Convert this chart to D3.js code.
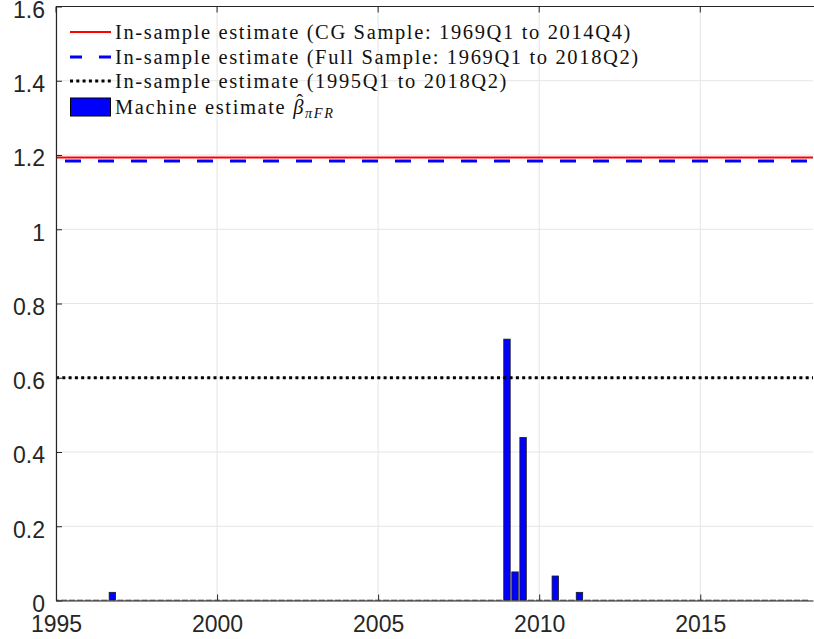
<!DOCTYPE html>
<html>
<head>
<meta charset="utf-8">
<script src="https://cdn.jsdelivr.net/npm/d3@7"></script>
<style>
  html, body { margin: 0; padding: 0; background: #fff; }
  svg { display: block; }
</style>
</head>
<body>
<svg id="chart" width="814" height="639"></svg>
<script>
// Quarterly machine estimates, 1995Q1 .. 2018Q2 (one row per year)
const machineEstimate = [
  0, 0, 0, 0,          // 1995
  0, 0, 0, 0.022,      // 1996
  0, 0, 0, 0,          // 1997
  0, 0, 0, 0,          // 1998
  0, 0, 0, 0,          // 1999
  0, 0, 0, 0,          // 2000
  0, 0, 0, 0,          // 2001
  0, 0, 0, 0,          // 2002
  0, 0, 0, 0,          // 2003
  0, 0, 0, 0,          // 2004
  0, 0, 0, 0,          // 2005
  0, 0, 0, 0,          // 2006
  0, 0, 0, 0,          // 2007
  0, 0, 0, 0,          // 2008
  0.704, 0.077, 0.439, 0, // 2009
  0, 0, 0.066, 0,      // 2010
  0, 0.022, 0, 0,      // 2011
  0, 0, 0, 0,          // 2012
  0, 0, 0, 0,          // 2013
  0, 0, 0, 0,          // 2014
  0, 0, 0, 0,          // 2015
  0, 0, 0, 0,          // 2016
  0, 0, 0, 0,          // 2017
  0, 0                 // 2018
];
const startYear = 1995;

// In-sample estimates (horizontal reference lines)
const estCG = 1.193;     // CG Sample: 1969Q1 to 2014Q4
const estFull = 1.184;   // Full Sample: 1969Q1 to 2018Q2
const estRecent = 0.6;   // 1995Q1 to 2018Q2

const xTicks = [1995, 2000, 2005, 2010, 2015];
const yTicks = [0, 0.2, 0.4, 0.6, 0.8, 1, 1.2, 1.4, 1.6];
const legendLabels = [
  "In-sample estimate (CG Sample: 1969Q1 to 2014Q4)",
  "In-sample estimate (Full Sample: 1969Q1 to 2018Q2)",
  "In-sample estimate (1995Q1 to 2018Q2)",
  "Machine estimate "
];

// Layout
const margin = { left: 56, right: 1, top: 6.5, bottom: 38.5 };
const W = 814, H = 639;
const svg = d3.select('#chart');

const x = d3.scaleLinear().domain([1995, 2018.5]).range([margin.left, W - margin.right]);
const y = d3.scaleLinear().domain([0, 1.6]).range([H - margin.bottom, margin.top]);

const axisColor = '#262626';
const gridColor = '#e5e5e5';
const tickFont = '"Liberation Sans", Arial, Helvetica, sans-serif';
const serif = '"Liberation Serif", "DejaVu Serif", serif';

svg.append('defs').append('clipPath').attr('id', 'plotclip')
  .append('rect')
  .attr('x', x(1995)).attr('y', y(1.6))
  .attr('width', x(2018.5) - x(1995)).attr('height', y(0) - y(1.6));

// Grid
const grid = svg.append('g');
grid.selectAll('.gx').data(xTicks).join('line')
  .attr('x1', d => x(d)).attr('x2', d => x(d))
  .attr('y1', y(0)).attr('y2', y(1.6))
  .attr('stroke', gridColor).attr('stroke-width', 1);
grid.selectAll('.gy').data(yTicks).join('line')
  .attr('x1', x(1995)).attr('x2', x(2018.5))
  .attr('y1', d => y(d)).attr('y2', d => y(d))
  .attr('stroke', gridColor).attr('stroke-width', 1);

// Bars (MATLAB bar width 0.8 of one quarter)
const plot = svg.append('g').attr('clip-path', 'url(#plotclip)');
const q = 0.25;
const bars = machineEstimate.map((v, i) => ({ t: startYear + i * q, v: v }));
const barW = x(0.8 * q) - x(0);

// zero-height bars still show their edge along the baseline
plot.selectAll('line.zero').data(bars.filter(d => d.v === 0)).join('line')
  .attr('class', 'zero')
  .attr('x1', d => x(d.t) - barW / 2).attr('x2', d => x(d.t) + barW / 2)
  .attr('y1', y(0)).attr('y2', y(0))
  .attr('stroke', '#1a1a1a').attr('stroke-width', 1.6);

plot.selectAll('rect.bar').data(bars.filter(d => d.v > 0)).join('rect')
  .attr('class', 'bar')
  .attr('x', d => x(d.t) - barW / 2)
  .attr('width', barW)
  .attr('y', d => y(d.v))
  .attr('height', d => y(0) - y(d.v))
  .attr('fill', '#0000ff')
  .attr('stroke', '#1a1a1a')
  .attr('stroke-width', 0.8);

// Reference lines
plot.append('line')
  .attr('x1', x(1995)).attr('x2', x(2018.5))
  .attr('y1', y(estFull)).attr('y2', y(estFull))
  .attr('stroke', '#0000ff').attr('stroke-width', 3)
  .attr('stroke-dasharray', '16,17').attr('stroke-dashoffset', 24);
plot.append('line')
  .attr('x1', x(1995)).attr('x2', x(2018.5))
  .attr('y1', y(estCG)).attr('y2', y(estCG))
  .attr('stroke', '#ff0000').attr('stroke-width', 2);
plot.append('line')
  .attr('x1', x(1995)).attr('x2', x(2018.5))
  .attr('y1', y(estRecent)).attr('y2', y(estRecent))
  .attr('stroke', '#000').attr('stroke-width', 3)
  .attr('stroke-dasharray', '3,3.3');

// Axes (MATLAB style: ticks inside)
const xAxis = d3.axisBottom(x).tickValues(xTicks).tickFormat(d3.format('d'))
  .tickSizeInner(-6).tickSizeOuter(0).tickPadding(14);
const gx = svg.append('g').attr('transform', `translate(0,${y(0)})`).call(xAxis);
const yAxis = d3.axisLeft(y).tickValues(yTicks).tickFormat(d => d3.format('~g')(d))
  .tickSizeInner(-6).tickSizeOuter(0).tickPadding(11);
const gy = svg.append('g').attr('transform', `translate(${x(1995)},0)`).call(yAxis);
[gx, gy].forEach(g => {
  g.select('.domain').attr('stroke', axisColor).attr('stroke-width', 1.2);
  g.selectAll('.tick line').attr('stroke', axisColor).attr('stroke-width', 1);
  g.selectAll('.tick text').attr('fill', axisColor)
    .style('font-family', tickFont).style('font-size', '23px');
});
gx.selectAll('.tick text').attr('dy', '0.74em');
gy.selectAll('.tick text').attr('dy', '0.47em');

// Top border with ticks
const topBorder = svg.append('g');
topBorder.append('line')
  .attr('x1', x(1995)).attr('x2', W).attr('y1', y(1.6)).attr('y2', y(1.6))
  .attr('stroke', axisColor).attr('stroke-width', 1.2);
topBorder.selectAll('line.tt').data(xTicks).join('line')
  .attr('class', 'tt')
  .attr('x1', d => x(d)).attr('x2', d => x(d))
  .attr('y1', y(1.6)).attr('y2', y(1.6) + 6)
  .attr('stroke', axisColor);

// Legend
const legY = [32, 57, 81, 107];
const lg = svg.append('g');
lg.append('line').attr('x1', 70).attr('x2', 111).attr('y1', legY[0]).attr('y2', legY[0])
  .attr('stroke', '#ff0000').attr('stroke-width', 2);
lg.append('line').attr('x1', 70).attr('x2', 111).attr('y1', legY[1]).attr('y2', legY[1])
  .attr('stroke', '#0000ff').attr('stroke-width', 3).attr('stroke-dasharray', '12,17');
lg.append('line').attr('x1', 70).attr('x2', 111).attr('y1', legY[2]).attr('y2', legY[2])
  .attr('stroke', '#000').attr('stroke-width', 3).attr('stroke-dasharray', '3,3.3');
lg.append('rect').attr('x', 70.5).attr('y', legY[3] - 9).attr('width', 40).attr('height', 18)
  .attr('fill', '#0000ff').attr('stroke', '#000').attr('stroke-width', 1);

const legFs = 20.5;
const texts = lg.selectAll('text.leg').data(legendLabels).join('text')
  .attr('class', 'leg')
  .attr('x', 115)
  .attr('y', (d, i) => legY[i])
  .attr('dy', '0.33em')
  .attr('fill', '#111')
  .style('font-family', serif)
  .style('font-size', legFs + 'px')
  .text(d => d);

// Wide-set like Computer Modern: spread letters so entry 1 spans ~517px
const targetWidth = 517;
const first = texts.node();
const w0 = first.getComputedTextLength();
const spacing = (targetWidth - w0) / legendLabels[0].length;
texts.style('letter-spacing', spacing + 'px');

// beta-hat with subscript pi F R
const last = texts.filter((d, i) => i === 3);
last.append('tspan').style('font-style', 'italic').text('\u03B2');
last.append('tspan').style('font-style', 'italic').style('font-size', (legFs * 0.7) + 'px')
  .attr('dy', '0.3em').text('\u03C0FR');
const betaIdx = legendLabels[3].length;
const ext = last.node().getExtentOfChar(betaIdx);
lg.append('text')
  .attr('x', ext.x + (ext.width - spacing) / 2 + 1.5)
  .attr('y', ext.y + 13)
  .attr('text-anchor', 'middle')
  .attr('fill', '#111')
  .style('font-family', serif)
  .style('font-size', legFs + 'px')
  .text('\u02C6');
</script>
</body>
</html>
